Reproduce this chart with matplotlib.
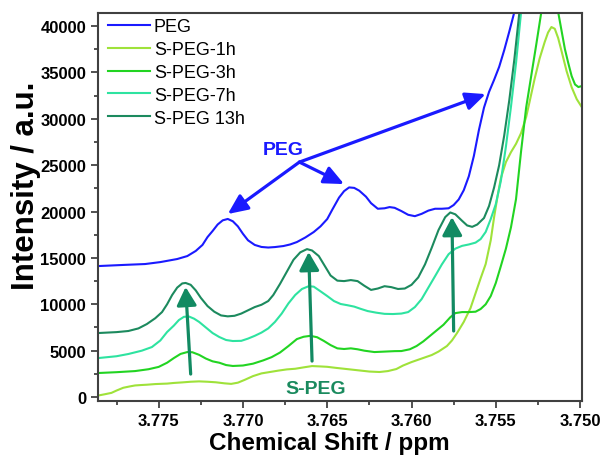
import matplotlib
matplotlib.use('Agg')
from matplotlib import pyplot as plt
from matplotlib.ticker import MultipleLocator, FormatStrFormatter

plt.rcParams['font.family'] = ['Liberation Sans', 'DejaVu Sans']

# values (ppm, intensity)
peg_ppm = [3.7786, 3.7770, 3.7758, 3.7749, 3.7739, 3.7733, 3.7728, 3.7724, 3.7721, 3.7718,
           3.7715, 3.7712, 3.7709, 3.7706, 3.7703, 3.7700, 3.7697, 3.7693, 3.7689, 3.7685,
           3.7681, 3.7676, 3.7672, 3.7668, 3.7663, 3.7658, 3.7654, 3.7650, 3.7647, 3.7643,
           3.7640, 3.7637, 3.7634, 3.7631, 3.7627, 3.7624, 3.7620, 3.7616, 3.7613, 3.7610,
           3.7606, 3.7602, 3.7598, 3.7594, 3.7590, 3.7586, 3.7582, 3.7578, 3.7575, 3.7572,
           3.7569, 3.7566, 3.7563, 3.7560, 3.7557, 3.7554, 3.7551, 3.7548, 3.7545, 3.7542,
           3.7539, 3.7536]
peg_int = [14120, 14250, 14340, 14550, 14880, 15200, 15750, 16400, 17250, 17900,
           18600, 19050, 19200, 18950, 18400, 17600, 16900, 16400, 16180, 16120,
           16170, 16280, 16450, 16710, 17200, 17790, 18400, 19190, 20200, 21500,
           22200, 22600, 22550, 22250, 21600, 20900, 20300, 20350, 20480, 20400,
           20050, 19650, 19500, 19750, 20100, 20300, 20300, 20350, 20700, 21300,
           22300, 23800, 26000, 28800, 31200, 32900, 34200, 35600, 37400, 39400,
           41500, 44000]

s1_ppm = [3.7786, 3.7782, 3.7778, 3.7775, 3.7771, 3.7767, 3.7764, 3.7760, 3.7757, 3.7752,
          3.7748, 3.7745, 3.7741, 3.7736, 3.7731, 3.7726, 3.7721, 3.7716, 3.7711, 3.7707,
          3.7703, 3.7699, 3.7694, 3.7689, 3.7684, 3.7679, 3.7674, 3.7669, 3.7664, 3.7659,
          3.7654, 3.7650, 3.7645, 3.7640, 3.7635, 3.7630, 3.7625, 3.7619, 3.7614, 3.7609,
          3.7605, 3.7600, 3.7594, 3.7588, 3.7584, 3.7579, 3.7576, 3.7573, 3.7569, 3.7565,
          3.7562, 3.7559, 3.7556, 3.7553, 3.7551, 3.7549, 3.7547, 3.7544, 3.7541, 3.7538,
          3.7535, 3.7532, 3.7530, 3.7527, 3.7524, 3.7521, 3.7519, 3.7517, 3.7515, 3.7513,
          3.7511, 3.7508, 3.7505, 3.7502, 3.7499]
s1_int = [160, 300, 450, 700, 1000, 1150, 1250, 1300, 1330, 1400,
          1430, 1450, 1520, 1580, 1650, 1690, 1650, 1590, 1480, 1420,
          1550, 1850, 2260, 2550, 2700, 2850, 2980, 3050, 3200, 3340,
          3300, 3260, 3150, 3050, 2950, 2850, 2750, 2700, 2800, 3020,
          3400, 3770, 4150, 4530, 4900, 5500, 6100, 6900, 8100, 9590,
          11200, 12800, 14340, 16900, 19400, 21600, 23600, 25330, 26400, 27300,
          28460, 30180, 31800, 34280, 36500, 38270, 39300, 39890, 39700, 38700,
          37300, 35140, 33400, 32120, 31260]

s3_ppm = [3.7786, 3.7775, 3.7764, 3.7756, 3.7750, 3.7745, 3.7741, 3.7737, 3.7733, 3.7730,
          3.7726, 3.7722, 3.7718, 3.7714, 3.7710, 3.7706, 3.7700, 3.7694, 3.7688, 3.7683,
          3.7678, 3.7673, 3.7668, 3.7664, 3.7660, 3.7656, 3.7652, 3.7648, 3.7644, 3.7640,
          3.7636, 3.7632, 3.7628, 3.7622, 3.7616, 3.7610, 3.7606, 3.7601, 3.7597, 3.7593,
          3.7589, 3.7585, 3.7581, 3.7577, 3.7574, 3.7570, 3.7566, 3.7562, 3.7559, 3.7556,
          3.7553, 3.7550, 3.7547, 3.7544, 3.7541, 3.7538, 3.7535, 3.7532, 3.7529, 3.7526,
          3.7523, 3.7518, 3.7513, 3.7511, 3.7509, 3.7507, 3.7505, 3.7503, 3.7501, 3.7499]
s3_int = [2590, 2680, 2800, 3000, 3250, 3700, 4200, 4650, 4850, 4830,
          4550, 4150, 3850, 3700, 3450, 3350, 3400, 3600, 3950, 4300,
          4800, 5500, 6250, 6500, 6600, 6450, 6050, 5600, 5250, 5180,
          5250, 5150, 5000, 4850, 4900, 4950, 4960, 5150, 5500, 6000,
          6600, 7200, 7800, 8600, 9050, 9160, 9160, 9200, 9490, 10000,
          10890, 12300, 14120, 16000, 18300, 21340, 26500, 31200, 34600, 38000,
          41500, 46000, 41500, 39500, 37510, 36000, 34600, 33700, 33420, 33530]

s7_ppm = [3.7786, 3.7775, 3.7768, 3.7760, 3.7754, 3.7749, 3.7745, 3.7741, 3.7738, 3.7735,
          3.7732, 3.7729, 3.7726, 3.7722, 3.7718, 3.7714, 3.7710, 3.7706, 3.7701, 3.7697,
          3.7693, 3.7689, 3.7685, 3.7681, 3.7677, 3.7673, 3.7669, 3.7665, 3.7661, 3.7658,
          3.7654, 3.7650, 3.7646, 3.7642, 3.7638, 3.7634, 3.7630, 3.7626, 3.7621, 3.7616,
          3.7611, 3.7606, 3.7602, 3.7598, 3.7594, 3.7590, 3.7586, 3.7582, 3.7578, 3.7574,
          3.7570, 3.7566, 3.7562, 3.7559, 3.7556, 3.7553, 3.7550, 3.7547, 3.7544, 3.7541,
          3.7538, 3.7535, 3.7532]
s7_int = [4200, 4400, 4640, 5000, 5390, 6100, 7010, 7700, 8300, 8650,
          8680, 8450, 8100, 7500, 6900, 6470, 6150, 6040, 6060, 6300,
          6600, 6950, 7400, 8100, 9000, 10100, 11000, 11650, 11950, 11900,
          11400, 10890, 10350, 10030, 9900, 9750, 9500, 9270, 9100, 8970,
          8950, 9000, 9160, 9700, 10560, 11800, 13040, 14300, 15400, 16000,
          16300, 16450, 16650, 17030, 17800, 19190, 20800, 23300, 27000, 31300,
          36000, 41500, 45000]

s13_ppm = [3.7786, 3.7775, 3.7768, 3.7762, 3.7757, 3.7752, 3.7748, 3.7745, 3.7742, 3.7739,
           3.7736, 3.7734, 3.7731, 3.7728, 3.7725, 3.7721, 3.7717, 3.7713, 3.7709, 3.7705,
           3.7701, 3.7697, 3.7693, 3.7689, 3.7685, 3.7682, 3.7678, 3.7674, 3.7670, 3.7666,
           3.7662, 3.7659, 3.7655, 3.7652, 3.7648, 3.7644, 3.7640, 3.7636, 3.7632, 3.7628,
           3.7624, 3.7620, 3.7616, 3.7612, 3.7608, 3.7604, 3.7600, 3.7596, 3.7592, 3.7588,
           3.7584, 3.7580, 3.7577, 3.7574, 3.7570, 3.7567, 3.7564, 3.7561, 3.7557, 3.7554,
           3.7551, 3.7548, 3.7545, 3.7542, 3.7539, 3.7536, 3.7533]
s13_int = [6900, 7000, 7120, 7400, 7870, 8500, 9160, 10000, 11000, 11800,
           12250, 12300, 12100, 11500, 10700, 9810, 9200, 8800, 8700, 8760,
           9000, 9350, 9700, 9950, 10350, 11000, 12200, 13500, 14800, 15600,
           15950, 15800, 15200, 14300, 13100, 12550, 12500, 12610, 12500, 12000,
           11550, 11700, 11950, 11850, 11650, 11700, 12100, 12900, 14300, 16100,
           18000, 19400, 19900, 19700, 19000, 18500, 18350, 18600, 19300, 20600,
           22600, 25000, 28200, 32000, 36400, 41500, 45000]

series = [
    ('PEG', peg_ppm, peg_int, '#1a1aff'),
    ('S-PEG-1h', s1_ppm, s1_int, '#9fe23a'),
    ('S-PEG-3h', s3_ppm, s3_int, '#22d422'),
    ('S-PEG-7h', s7_ppm, s7_int, '#2ee3a0'),
    ('S-PEG 13h', s13_ppm, s13_int, '#1c8a5e'),
]

# annotation anchors
peg_label = (3.7676, 26700)
peg_arrow_from = (3.76665, 25330)
peg_arrow_to = [(3.7709, 19730), (3.7640, 22960), (3.7556, 32660)]
speg_label = (3.7657, 970)
speg_arrows = [((3.7731, 2480), (3.7734, 11860)),
               ((3.7659, 3880), (3.7661, 15630)),
               ((3.7575, 7120), (3.7576, 19400))]

fig = plt.figure(figsize=(6.01, 4.60), dpi=100)
ax = fig.add_axes([0.163, 0.126, 0.805, 0.8435])

for name, xs, ys, col in series:
    ax.plot(xs, ys, color=col, lw=1.5, label=name, solid_joinstyle='round')

ax.set_xlim(3.7786, 3.7499)
ax.set_ylim(-430, 41400)

ax.xaxis.set_major_locator(MultipleLocator(0.005))
ax.xaxis.set_minor_locator(MultipleLocator(0.0025))
ax.xaxis.set_major_formatter(FormatStrFormatter('%.3f'))
ax.yaxis.set_major_locator(MultipleLocator(5000))
ax.yaxis.set_minor_locator(MultipleLocator(2500))
ax.tick_params(which='both', direction='out', top=False, right=False, width=1.2, colors='#333333')
ax.tick_params(which='major', length=5, labelsize=12)
ax.tick_params(which='minor', length=3)
for lab in ax.get_xticklabels() + ax.get_yticklabels():
    lab.set_fontweight('bold')
    lab.set_color('black')
for sp in ax.spines.values():
    sp.set_color('#404040')
    sp.set_linewidth(1.5)

ax.set_xlabel('Chemical Shift / ppm', fontsize=17.5, fontweight='bold')
ax.set_ylabel('Intensity / a.u.', fontsize=22.5, fontweight='bold')
ax.xaxis.set_label_coords(0.478, -0.078)
ax.yaxis.set_label_coords(-0.117, 0.556)

blue_arrow = dict(arrowstyle='-|>,head_length=0.6,head_width=0.27', color='#1a1aff',
                  lw=2.3, mutation_scale=20, shrinkA=0, shrinkB=0)
for tip in peg_arrow_to:
    ax.annotate('', xy=tip, xytext=peg_arrow_from, arrowprops=blue_arrow)
ax.text(*peg_label, 'PEG', color='#1a1aff', fontsize=14, fontweight='bold',
        ha='center', va='center')

green_arrow = dict(arrowstyle='-|>,head_length=0.55,head_width=0.3', color='#128a62',
                   lw=2.3, mutation_scale=20, shrinkA=0, shrinkB=0)
for base, tip in speg_arrows:
    ax.annotate('', xy=tip, xytext=base, arrowprops=green_arrow)
ax.text(*speg_label, 'S-PEG', color='#1a8a5e', fontsize=14, fontweight='bold',
        ha='center', va='center')

ax.legend(loc='upper left', bbox_to_anchor=(0.01, 1.0), frameon=False, fontsize=13,
          handlelength=2.3, handletextpad=0.22, labelspacing=0.32, borderaxespad=0.0,
          borderpad=0.3)

fig.savefig('out.png', dpi=100)
